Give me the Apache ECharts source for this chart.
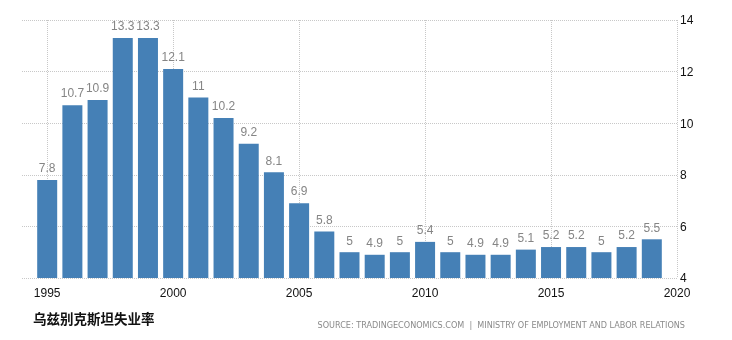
<!DOCTYPE html>
<html>
<head>
<meta charset="utf-8">
<script src="https://cdn.jsdelivr.net/npm/echarts@6/dist/echarts.min.js"></script>
<style>
html,body{margin:0;padding:0;background:#fff;}
#chart{width:732px;height:340px;}
</style>
</head>
<body>
<div id="chart"></div>
<script>
// axis categories (1994 and 2020 are empty edge slots of the time axis)
const years = ['1994','1995','1996','1997','1998','1999','2000','2001','2002','2003','2004','2005','2006','2007','2008','2009','2010','2011','2012','2013','2014','2015','2016','2017','2018','2019','2020'];
const unemployment = [null,7.8,10.7,10.9,13.3,13.3,12.1,11,10.2,9.2,8.1,6.9,5.8,5,4.9,5,5.4,5,4.9,4.9,5.1,5.2,5.2,5,5.2,5.5,null];
const titleText = '乌兹别克斯坦失业率';
const sourceText = 'SOURCE: TRADINGECONOMICS.COM  |  MINISTRY OF EMPLOYMENT AND LABOR RELATIONS';

const chart = echarts.init(document.getElementById('chart'), null, {renderer:'canvas'});
const showFive = (idx, val) => Number(years[idx]) % 5 === 0;
chart.setOption({
  animation:false,
  backgroundColor:'#fff',
  title:[
    {text:titleText, left:33, top:312, padding:0,
     textStyle:{fontSize:13.5, fontWeight:'bold', color:'#111', fontFamily:'"Noto Sans CJK SC", sans-serif'}},
    {text:sourceText, right:47, top:322, padding:0,
     textStyle:{fontSize:8.1, fontWeight:'normal', color:'#8a8a8a', fontFamily:'"DejaVu Sans", sans-serif'}}
  ],
  grid:{left:22, right:55, top:20, bottom:62},
  xAxis:{
    type:'category', data:years, boundaryGap:false,
    axisLine:{show:false}, axisTick:{show:false},
    axisLabel:{interval:showFive, color:'#111', fontSize:12, margin:10,
      fontFamily:'"Liberation Sans Narrow", "Liberation Sans", sans-serif'},
    splitLine:{show:true, interval:showFive, lineStyle:{color:'#c8c8c8', type:'dotted', width:1}}
  },
  yAxis:{
    type:'value', position:'right', min:4, max:14, interval:2,
    axisLine:{show:false}, axisTick:{show:false},
    axisLabel:{color:'#111', fontSize:12, margin:3, verticalAlign:'top', padding:[-5,0,0,0],
      fontFamily:'"Liberation Sans Narrow", "Liberation Sans", sans-serif'},
    splitLine:{lineStyle:{color:'#c8c8c8', type:'dotted', width:1}}
  },
  series:[{
    type:'bar', data:unemployment, barWidth:20,
    itemStyle:{color:'#4580b6'},
    label:{show:true, position:'top', distance:5, color:'#858585', fontSize:12,
      fontFamily:'"Liberation Sans Narrow", "Liberation Sans", sans-serif'}
  }]
});
</script>
</body>
</html>
